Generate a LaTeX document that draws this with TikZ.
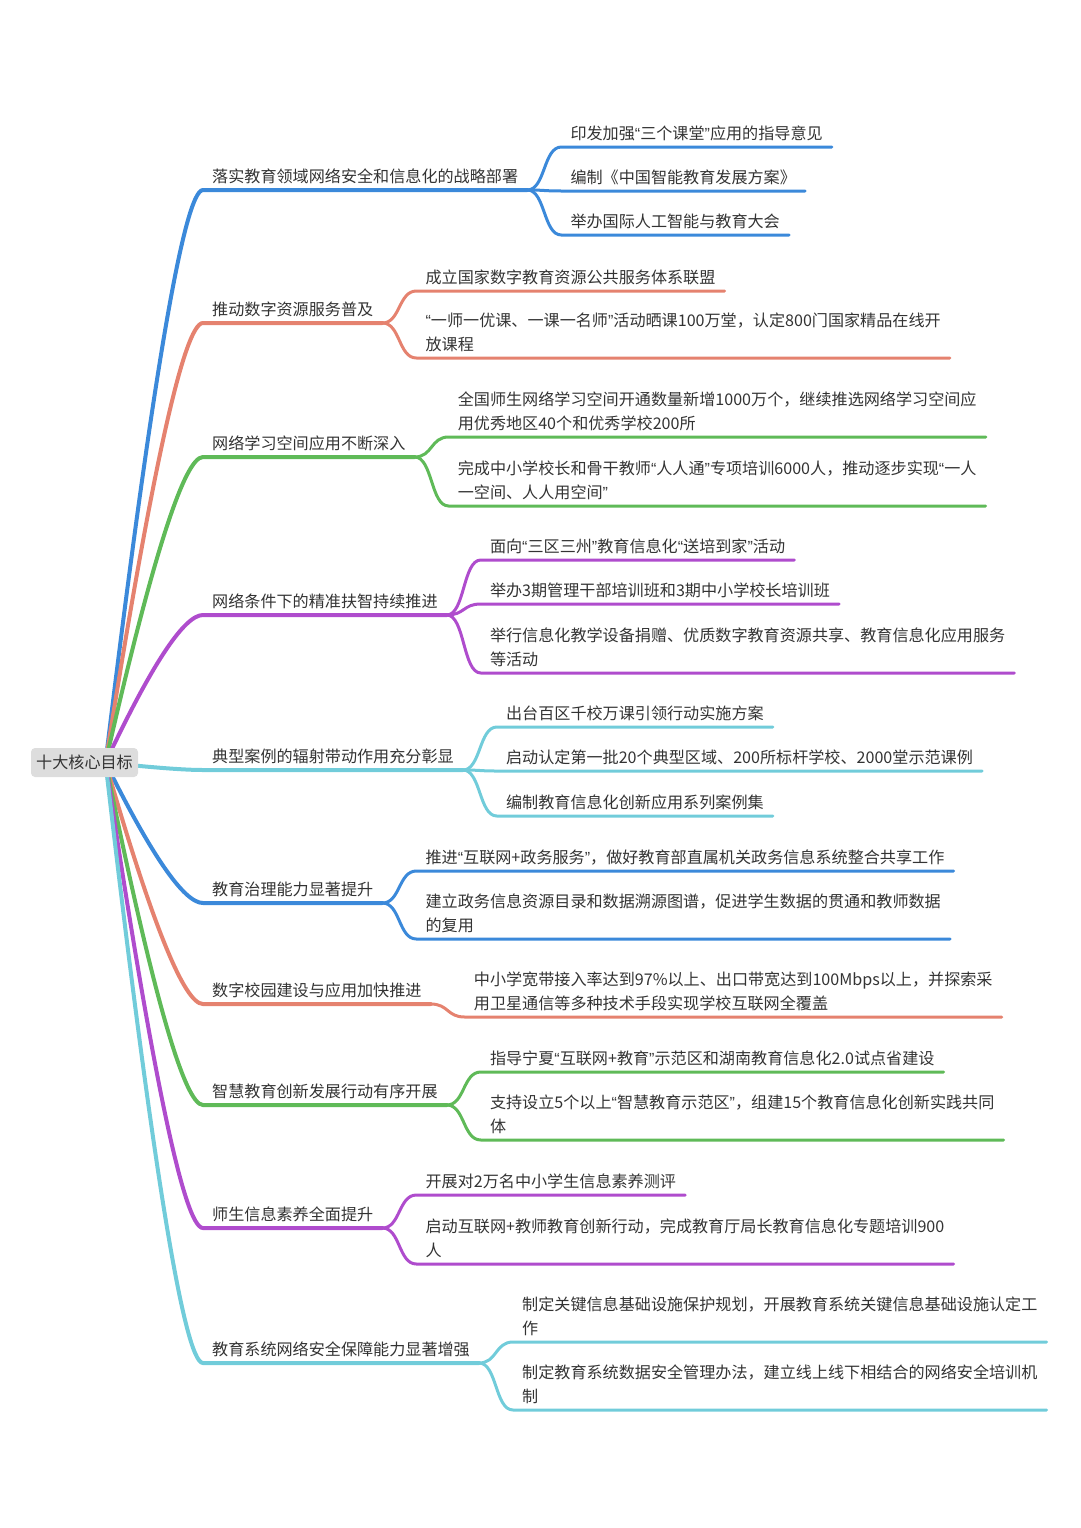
\documentclass[tikz,border=0pt]{standalone}
\usepackage{fontspec}
\setmainfont{Noto Sans CJK SC}
\newfontfamily\latinfont{Liberation Sans}
\usetikzlibrary{calc, positioning, backgrounds}
\definecolor{mapblue}{RGB}{59,137,218}
\definecolor{mapsalmon}{RGB}{229,130,111}
\definecolor{mapgreen}{RGB}{95,186,88}
\definecolor{mappurple}{RGB}{175,76,205}
\definecolor{mapcyan}{RGB}{113,204,218}
\definecolor{maptext}{RGB}{51,51,51}
\definecolor{rootgray}{RGB}{221,221,221}
% narrow quotes, as in the picture
\newcommand\qo{{\latinfont “}}
\newcommand\qc{{\latinfont ”}}

\begin{document}
\begin{tikzpicture}[% styles used in the map
  x = 1pt, y = -1pt,
  every node/.style = {font=\fontsize{16.1}{24}\selectfont, text=maptext},
 rootbox/.style = {fill=rootgray, rounded corners=4pt,
                   minimum width=107pt, minimum height=29pt, inner sep=0pt},
   topic/.style = {anchor=south west, align=left,
                   inner xsep=9pt, inner ysep=7.5pt, text depth=0pt},
  branch/.style = {line width=4pt, line cap=round},
 subline/.style = {line width=3pt, line cap=round},
root link/.style = {to path={.. controls ($(\tikztostart)!0.667!(\tikztotarget)+(-18.7,0)$)
                              and ($(\tikztotarget)+(-18.7,0)$) .. (\tikztotarget) \tikztonodes}},
sub link/.style = {to path={.. controls +(18,0) and +(-18,0) .. (\tikztotarget) \tikztonodes}}
                    ]
\useasboundingbox (0,0) rectangle (1080,1528);

% centre
\node[rootbox] (root) at (84.5,762.5) {十大核心目标};
\coordinate (hub) at ([xshift=21pt]root.center);

% first level
\node[topic] (t1)  at (203,190)  {落实教育领域网络安全和信息化的战略部署};
\node[topic] (t2)  at (203,323)  {推动数字资源服务普及};
\node[topic] (t3)  at (203,457)  {网络学习空间应用不断深入};
\node[topic] (t4)  at (203,615)  {网络条件下的精准扶智持续推进};
\node[topic] (t5)  at (203,770)  {典型案例的辐射带动作用充分彰显};
\node[topic] (t6)  at (203,903)  {教育治理能力显著提升};
\node[topic] (t7)  at (203,1004) {数字校园建设与应用加快推进};
\node[topic] (t8)  at (203,1105) {智慧教育创新发展行动有序开展};
\node[topic] (t9)  at (203,1228) {师生信息素养全面提升};
\node[topic] (t10) at (203,1363) {教育系统网络安全保障能力显著增强};

% second level, 34pt right of the parent line
\foreach \t in {1,...,10}
  \path (t\t.south east) ++(34,0) coordinate (k\t);

\node[topic] (t1a) at (k1 |- 0,147) {印发加强\qo 三个课堂\qc 应用的指导意见};
\node[topic] (t1b) at (k1 |- 0,191) {编制《中国智能教育发展方案》};
\node[topic] (t1c) at (k1 |- 0,235) {举办国际人工智能与教育大会};

\node[topic] (t2a) at (k2 |- 0,291) {成立国家数字教育资源公共服务体系联盟};
\node[topic] (t2b) at (k2 |- 0,358) {\qo 一师一优课、一课一名师\qc 活动晒课100万堂，认定800门国家精品在线开\\放课程};

\node[topic] (t3a) at (k3 |- 0,437) {全国师生网络学习空间开通数量新增1000万个，继续推选网络学习空间应\\用优秀地区40个和优秀学校200所};
\node[topic] (t3b) at (k3 |- 0,506) {完成中小学校长和骨干教师\qo 人人通\qc 专项培训6000人，推动逐步实现\qo 一人\\一空间、人人用空间\qc};

\node[topic] (t4a) at (k4 |- 0,560) {面向\qo 三区三州\qc 教育信息化\qo 送培到家\qc 活动};
\node[topic] (t4b) at (k4 |- 0,604) {举办3期管理干部培训班和3期中小学校长培训班};
\node[topic] (t4c) at (k4 |- 0,673) {举行信息化教学设备捐赠、优质数字教育资源共享、教育信息化应用服务\\等活动};

\node[topic] (t5a) at (k5 |- 0,727) {出台百区千校万课引领行动实施方案};
\node[topic] (t5b) at (k5 |- 0,771) {启动认定第一批20个典型区域、200所标杆学校、2000堂示范课例};
\node[topic] (t5c) at (k5 |- 0,816) {编制教育信息化创新应用系列案例集};

\node[topic] (t6a) at (k6 |- 0,871) {推进\qo 互联网+政务服务\qc，做好教育部直属机关政务信息系统整合共享工作};
\node[topic] (t6b) at (k6 |- 0,939) {建立政务信息资源目录和数据溯源图谱，促进学生数据的贯通和教师数据\\的复用};

\node[topic] (t7a) at (k7 |- 0,1017) {中小学宽带接入率达到97\%以上、出口带宽达到100Mbps以上，并探索采\\用卫星通信等多种技术手段实现学校互联网全覆盖};

\node[topic] (t8a) at (k8 |- 0,1072) {指导宁夏\qo 互联网+教育\qc 示范区和湖南教育信息化2.0试点省建设};
\node[topic] (t8b) at (k8 |- 0,1140) {支持设立5个以上\qo 智慧教育示范区\qc，组建15个教育信息化创新实践共同\\体};

\node[topic] (t9a) at (k9 |- 0,1195) {开展对2万名中小学生信息素养测评};
\node[topic] (t9b) at (k9 |- 0,1264) {启动互联网+教师教育创新行动，完成教育厅局长教育信息化专题培训900\\人};

\node[topic] (t10a) at (k10 |- 0,1342) {制定关键信息基础设施保护规划，开展教育系统关键信息基础设施认定工\\作};
\node[topic] (t10b) at (k10 |- 0,1410) {制定教育系统数据安全管理办法，建立线上线下相结合的网络安全培训机\\制};

% lines, under the nodes
\begin{scope}[on background layer]
  \foreach \t/\c in {1/mapblue, 2/mapsalmon, 3/mapgreen, 4/mappurple, 5/mapcyan,
                     6/mapblue, 7/mapsalmon, 8/mapgreen, 9/mappurple, 10/mapcyan}
    \draw[branch, \c] (hub) to[root link] (t\t.south west) -- (t\t.south east);

  \foreach \t/\s/\c in {1/a/mapblue, 1/b/mapblue, 1/c/mapblue,
                        2/a/mapsalmon, 2/b/mapsalmon,
                        3/a/mapgreen, 3/b/mapgreen,
                        4/a/mappurple, 4/b/mappurple, 4/c/mappurple,
                        5/a/mapcyan, 5/b/mapcyan, 5/c/mapcyan,
                        6/a/mapblue, 6/b/mapblue,
                        7/a/mapsalmon,
                        8/a/mapgreen, 8/b/mapgreen,
                        9/a/mappurple, 9/b/mappurple,
                        10/a/mapcyan, 10/b/mapcyan}
    \draw[subline, \c] (t\t.south east) to[sub link] (t\t\s.south west) -- (t\t\s.south east);
\end{scope}
\end{tikzpicture}
\end{document}
